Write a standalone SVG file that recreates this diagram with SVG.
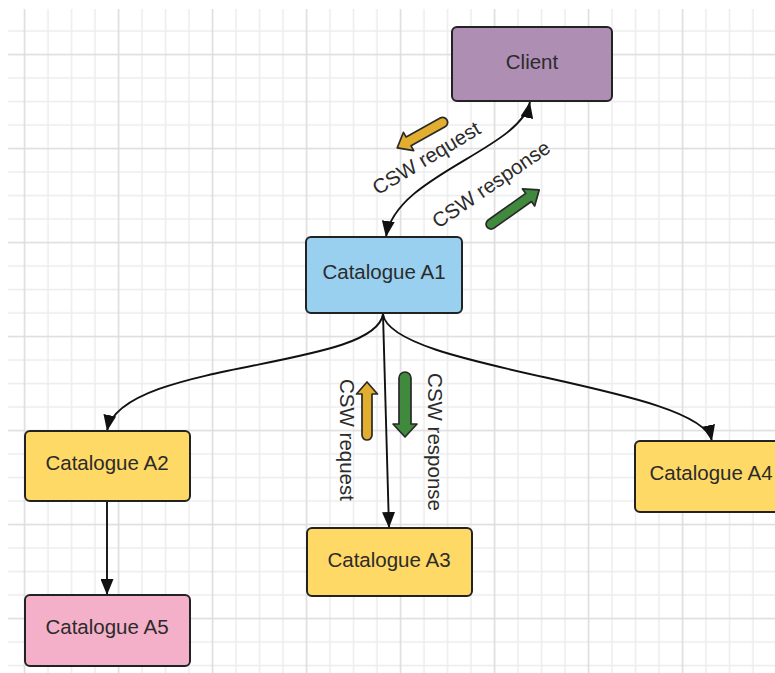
<svg xmlns="http://www.w3.org/2000/svg" width="775" height="673" viewBox="0 0 775 673">
  <defs>
    <!-- background grid: minor lines every 23.5px, a heavier line every 4th -->
    <pattern id="grid" patternUnits="userSpaceOnUse" x="-34.25" y="-4.25" width="94" height="94">
      <g stroke="#ececec" stroke-width="1.6">
        <line x1="11.75" y1="0" x2="11.75" y2="94"/>
        <line x1="35.25" y1="0" x2="35.25" y2="94"/>
        <line x1="82.25" y1="0" x2="82.25" y2="94"/>
        <line x1="0" y1="11.75" x2="94" y2="11.75"/>
        <line x1="0" y1="35.25" x2="94" y2="35.25"/>
        <line x1="0" y1="82.25" x2="94" y2="82.25"/>
      </g>
      <g stroke="#dcdcdc" stroke-width="1.6">
        <line x1="58.75" y1="0" x2="58.75" y2="94"/>
        <line x1="0" y1="58.75" x2="94" y2="58.75"/>
      </g>
    </pattern>
    <marker id="head" markerUnits="userSpaceOnUse" markerWidth="17" markerHeight="13" refX="16" refY="6.5" orient="auto-start-reverse">
      <path d="M0,0 L16,6.5 L0,13 Z" fill="#111"/>
    </marker>
  </defs>
  <style>
    .node rect { stroke: #222; stroke-width: 2; }
    .label { font-family: "Liberation Sans", Arial, sans-serif; font-size: 20.5px; fill: #2b2b2b; }
    .node text { text-anchor: middle; }
    .conn { fill: none; stroke: #111; stroke-width: 1.9; }
    .flow { stroke: #2a2a2a; stroke-width: 1.7; stroke-linejoin: round; }
    .req { fill: #e2ae30; }
    .resp { fill: #3f8a3d; }
  </style>

  <rect x="0" y="0" width="775" height="673" fill="#ffffff"/>
  <rect x="8" y="9" width="767" height="664" fill="url(#grid)"/>

  <!-- connectors -->
  <g id="connectors">
    <path class="conn" d="M530,102 C520,150 395,175 386,237" marker-start="url(#head)" marker-end="url(#head)"/>
    <path class="conn" d="M383,314 C375,370 120,360 107,431" marker-end="url(#head)"/>
    <path class="conn" d="M383,314 L389,528" marker-end="url(#head)"/>
    <path class="conn" d="M383,314 C390,370 700,385 712,441" marker-end="url(#head)"/>
    <path class="conn" d="M107,501 L107,595" marker-end="url(#head)"/>
  </g>

  <!-- message flow indicators -->
  <g id="flows">
    <path class="flow req" transform="translate(447,120) rotate(150.8)" d="M5,-5 H44 V-10.5 L57,0 L44,10.5 V5 H5 A5,5 0 0 1 5,-5 Z"/>
    <path class="flow resp" transform="translate(487,227) rotate(-35.4)" d="M5,-5 H51 V-10.5 L64,0 L51,10.5 V5 H5 A5,5 0 0 1 5,-5 Z"/>
    <path class="flow req" transform="translate(367,440) rotate(-90)" d="M5,-5 H46 V-10.5 L58,0 L46,10.5 V5 H5 A5,5 0 0 1 5,-5 Z"/>
    <path class="flow resp" transform="translate(405,372) rotate(90)" d="M6,-6 H52 V-12 L65,0 L52,12 V6 H6 A6,6 0 0 1 6,-6 Z"/>
    <text class="label" text-anchor="middle" transform="translate(430,164) rotate(-31)">CSW request</text>
    <text class="label" text-anchor="middle" transform="translate(495,190) rotate(-34.5)">CSW response</text>
    <text class="label" text-anchor="middle" transform="translate(340,440) rotate(90)">CSW request</text>
    <text class="label" text-anchor="middle" transform="translate(428,442) rotate(90)">CSW response</text>
  </g>

  <g id="client" class="node">
    <rect x="452" y="27" width="160" height="74" rx="5" fill="#ae8eb3"/>
    <text class="label" x="532" y="69">Client</text>
  </g>
  <g id="catalogue-a1" class="node">
    <rect x="306" y="237" width="156" height="76" rx="5" fill="#99d0f0"/>
    <text class="label" x="384" y="279">Catalogue A1</text>
  </g>
  <g id="catalogue-a2" class="node">
    <rect x="25" y="431" width="165" height="70" rx="5" fill="#ffd966"/>
    <text class="label" x="107" y="470">Catalogue A2</text>
  </g>
  <g id="catalogue-a3" class="node">
    <rect x="307" y="528" width="165" height="68" rx="5" fill="#ffd966"/>
    <text class="label" x="389" y="567">Catalogue A3</text>
  </g>
  <g id="catalogue-a4" class="node">
    <rect x="635" y="441" width="152" height="71" rx="5" fill="#ffd966"/>
    <text class="label" x="711" y="480">Catalogue A4</text>
  </g>
  <g id="catalogue-a5" class="node">
    <rect x="25" y="595" width="165" height="71" rx="5" fill="#f4b0c8"/>
    <text class="label" x="107" y="634">Catalogue A5</text>
  </g>
</svg>
